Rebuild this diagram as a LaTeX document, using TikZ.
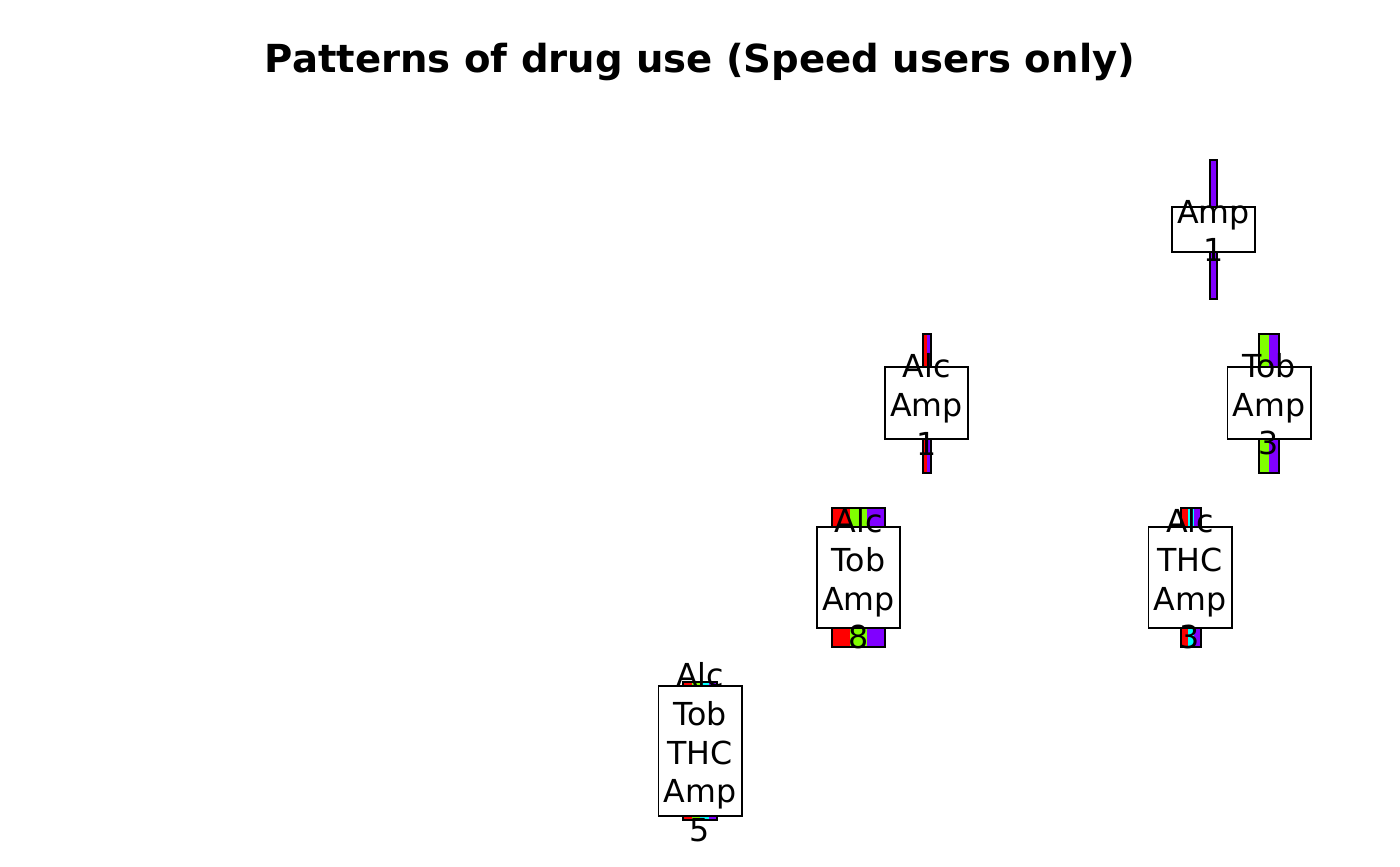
\documentclass[tikz,border=0pt]{standalone}
\usepackage{fontspec}
\setmainfont{DejaVu Sans}
\definecolor{alc}{HTML}{FF0000}
\definecolor{tob}{HTML}{80FF00}
\definecolor{thc}{HTML}{00FFFF}
\definecolor{amp}{HTML}{8000FF}
\tikzset{
  box/.style={draw, fill=white, line width=0.7pt, minimum width=29.9pt, inner sep=0pt},
  lbl/.style={align=center, inner sep=0pt, font=\fontsize{11.4}{13.9}\selectfont},
  bar/.style={draw, line width=0.7pt}
}
\begin{document}
\begin{tikzpicture}[x=0.36pt,y=-0.36pt]
\useasboundingbox (0,0) rectangle (1400,866);
\node[anchor=base, font=\fontsize{13.9}{17}\selectfont\bfseries] (title) at (700,72) {Patterns of drug use (Speed users only)};
% bars
\fill[amp] (1210,160) rectangle (1217,299);
\path[bar] (1210,160) rectangle (1217,299);
\fill[alc] (923,334) rectangle (927,473);
\fill[amp] (927,334) rectangle (931,473);
\path[bar] (923,334) rectangle (931,473);
\fill[tob] (1259,334) rectangle (1269,473);
\fill[amp] (1269,334) rectangle (1279,473);
\path[bar] (1259,334) rectangle (1279,473);
\fill[alc] (832,508) rectangle (850,647);
\fill[tob] (850,508) rectangle (867,647);
\fill[amp] (867,508) rectangle (885,647);
\path[bar] (832,508) rectangle (885,647);
\fill[alc] (1181,508) rectangle (1187.7,647);
\fill[thc] (1187.7,508) rectangle (1194.3,647);
\fill[amp] (1194.3,508) rectangle (1201,647);
\path[bar] (1181,508) rectangle (1201,647);
\fill[alc] (683,682) rectangle (691.5,820);
\fill[tob] (691.5,682) rectangle (700,820);
\fill[thc] (700,682) rectangle (708.5,820);
\fill[amp] (708.5,682) rectangle (717,820);
\path[bar] (683,682) rectangle (717,820);
% boxes
\node[box, minimum height=16.2pt] (amp) at (1213.5,229.5) {};
\node[box, minimum height=25.9pt] (alcamp) at (926.5,403) {};
\node[box, minimum height=25.9pt] (tobamp) at (1269,403) {};
\node[box, minimum height=36.4pt] (alctobamp) at (858.5,577.5) {};
\node[box, minimum height=36.4pt] (alcthcamp) at (1190,577.5) {};
\node[box, minimum height=46.8pt] (alctobthcamp) at (700,751) {};
% labels
\node[lbl] (amptxt) at ([yshift=-0.5pt]amp.center) {Amp\\1};
\node[lbl] (alcamptxt) at ([yshift=-0.5pt]alcamp.center) {Alc\\Amp\\1};
\node[lbl] (tobamptxt) at ([yshift=-0.5pt]tobamp.center) {Tob\\Amp\\3};
\node[lbl] (alctobamptxt) at ([yshift=-0.5pt]alctobamp.center) {Alc\\Tob\\Amp\\8};
\node[lbl] (alcthcamptxt) at ([yshift=-0.5pt]alcthcamp.center) {Alc\\THC\\Amp\\3};
\node[lbl] (alctobthcamptxt) at ([yshift=-0.5pt]alctobthcamp.center) {Alc\\Tob\\THC\\Amp\\5};
\end{tikzpicture}
\end{document}
